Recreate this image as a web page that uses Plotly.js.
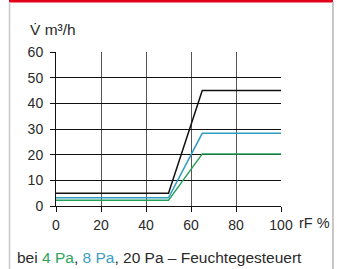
<!DOCTYPE html>
<html>
<head>
<meta charset="utf-8">
<script src="https://cdn.plot.ly/plotly-3.0.1.min.js"></script>
<style>
html,body{margin:0;padding:0;background:#fff;}
#chart{width:337px;height:269px;}
</style>
</head>
<body>
<div id="chart"></div>
<script>
// Data
const rF = [0, 50, 65, 100];
const flow20Pa = [5, 5, 45, 45];
const flow8Pa = [3.2, 3.2, 28.3, 28.3];
const flow4Pa = [2.2, 2.2, 20.3, 20.3];
const xTicks = [0, 20, 40, 60, 80, 100];
const yTicks = [0, 10, 20, 30, 40, 50, 60];
const yTitle = "V̇ m³/h";
const xTitle = "rF %";
const caption = 'bei <span style="color:#2ea45a">4 Pa</span>, <span style="color:#3a9ec6">8 Pa</span>, 20 Pa – Feuchtegesteuert';

const fam = "Liberation Sans, Arial, sans-serif";
const txt = "#2a2a2a";

const traces = [
  {x: rF, y: flow20Pa, mode: "lines", line: {color: "#111", width: 1.5}, hoverinfo: "skip"},
  {x: rF, y: flow8Pa, mode: "lines", line: {color: "#2f9cc4", width: 1.5}, hoverinfo: "skip"},
  {x: rF, y: flow4Pa, mode: "lines", line: {color: "#22a055", width: 1.5}, hoverinfo: "skip"}
];

const layout = {
  width: 337, height: 269,
  margin: {l: 56, r: 56, t: 52, b: 63, pad: 0},
  paper_bgcolor: "#fff", plot_bgcolor: "#fff",
  showlegend: false,
  font: {family: fam, size: 14, color: txt},
  xaxis: {
    range: [0, 100], tickvals: xTicks, ticktext: xTicks.map(String),
    showgrid: true, gridcolor: "#555", gridwidth: 1,
    zeroline: false, showline: true, linecolor: "#111", linewidth: 1,
    ticks: "outside", ticklen: 5, tickcolor: "#111", tickwidth: 1,
    tickfont: {family: fam, size: 14, color: txt},
    ticklabelstandoff: 1,
    fixedrange: true
  },
  yaxis: {
    range: [0, 60], tickvals: yTicks, ticktext: yTicks.map(String),
    showgrid: true, gridcolor: "#111", gridwidth: 1,
    zeroline: false, showline: true, linecolor: "#111", linewidth: 1,
    ticks: "outside", ticklen: 5, tickcolor: "#111", tickwidth: 1,
    tickfont: {family: fam, size: 14, color: txt},
    ticklabelstandoff: 4,
    fixedrange: true
  },
  shapes: [
    {type: "rect", xref: "paper", yref: "paper", x0: -47/225, x1: 1 + 52/225, y0: 1 + 49.5/154, y1: 1 + 53/154,
     fillcolor: "#e3001b", line: {width: 0}, layer: "above"},
    {type: "line", xref: "paper", yref: "paper", x0: -46.5/225, x1: -46.5/225, y0: -1, y1: 1 + 50/154,
     line: {color: "#c8c8c8", width: 1.5}},
    {type: "line", xref: "paper", yref: "paper", x0: 1 + 52/225, x1: 1 + 52/225, y0: -1, y1: 1 + 50/154,
     line: {color: "#c8c8c8", width: 2}}
  ],
  annotations: [
    {text: yTitle, xref: "paper", yref: "paper", x: -28.5/225, y: 1 + 23/154, xanchor: "left", yanchor: "middle",
     showarrow: false, font: {family: fam, size: 15.5, color: txt}},
    {text: xTitle, xref: "paper", yref: "paper", x: 1 + 16/225, y: -16.5/154, xanchor: "left", yanchor: "middle",
     showarrow: false, font: {family: fam, size: 14.5, color: txt}},
    {text: caption, xref: "paper", yref: "paper", x: -41/225, y: -51/154, xanchor: "left", yanchor: "middle",
     showarrow: false, font: {family: fam, size: 15.5, color: txt}}
  ]
};

Plotly.newPlot("chart", traces, layout, {staticPlot: true, displayModeBar: false});
</script>
</body>
</html>
